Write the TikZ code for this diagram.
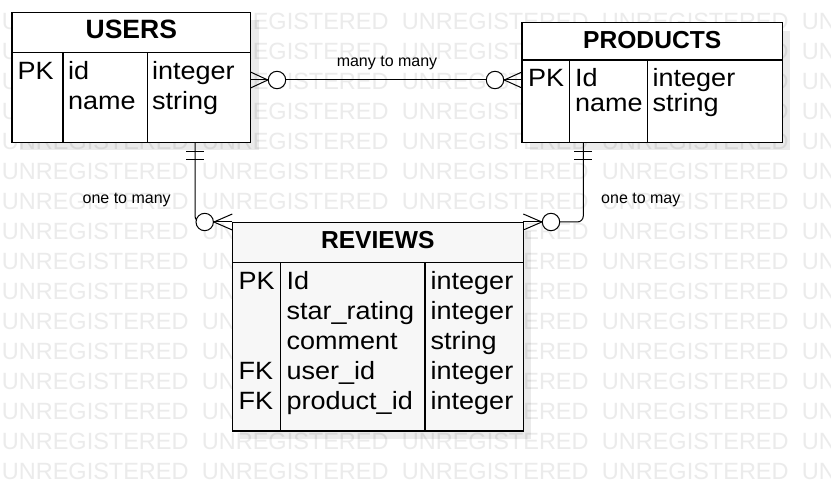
\documentclass[tikz,border=0pt]{standalone}
\usepackage{fontspec}
\setmainfont{Liberation Sans}
\newfontfamily\rowfont[FakeStretch=1.08]{Liberation Sans}
\usetikzlibrary{calc}
\pgfdeclarelayer{wmlayer}
\pgfdeclarelayer{linelayer}
\pgfsetlayers{wmlayer,linelayer,main}
\begin{document}
\begin{tikzpicture}[x=1pt,y=-1pt,
  box/.style={draw=black, line width=1.2pt, fill=white, inner sep=0pt, outer sep=0pt, anchor=north west},
  sep/.style={draw=black, line width=1.2pt},
  shade/.style={fill=black, fill opacity=0.08, draw=none},
  hdr/.style={inner sep=0pt, anchor=base},
  row/.style={font=\rowfont\fontsize{25}{25}\selectfont, inner sep=0pt, anchor=base west},
  lbl/.style={font=\fontsize{16}{16}\selectfont, inner sep=0pt, anchor=base},
  circ/.style={circle, draw=black, line width=1pt, fill=white, minimum size=17.4pt, inner sep=0pt},
  conn/.style={draw=black, line width=1pt},
  wm/.style={font=\fontsize{23.5}{23.5}\selectfont, text=black!8, inner sep=0pt, anchor=west}
]
\useasboundingbox (0,0) rectangle (831,481);

% watermark
\begin{pgfonlayer}{wmlayer}
\fill[white] (0,0) rectangle (831,481);
\foreach \r in {0,...,15}{
  \foreach \c in {0,...,4}{
    \node[wm] (wm-\r-\c) at ({1.7+200*\c},{21.7+30*\r}) {UNREGISTERED};
  }
}
% shadows
\fill[shade] (20,20.5) rectangle (258.5,150.3);
\fill[shade] (530,30.7) rectangle (790.3,150.3);
\fill[shade] (240.3,230.7) rectangle (531.3,439);
\end{pgfonlayer}

% USERS
\node[box, minimum width=238.5pt, minimum height=129.8pt] (users) at (12,12.5) {};
\draw[sep] ($(users.north west)+(0,39.8)$) -- ($(users.north east)+(0,39.8)$);
\draw[sep] ($(users.north west)+(51,39.8)$) -- ($(users.south west)+(51,0)$);
\draw[sep] ($(users.north west)+(135.3,39.8)$) -- ($(users.south west)+(135.3,0)$);
\node[hdr, font=\bfseries\fontsize{26.5}{26.5}\selectfont] (usersT) at (131.3,39) {USERS};
\node[row] (u-pk) at (17.5,80) {PK};
\node[row] (u-id) at (68,80) {id};
\node[row] (u-name) at (68,109.5) {name};
\node[row] (u-int) at (152,80) {integer};
\node[row] (u-str) at (152,109.5) {string};

% PRODUCTS
\node[box, minimum width=260.3pt, minimum height=119.6pt] (products) at (522,22.7) {};
\draw[sep] ($(products.north west)+(0,37.3)$) -- ($(products.north east)+(0,37.3)$);
\draw[sep] ($(products.north west)+(47.7,37.3)$) -- ($(products.south west)+(47.7,0)$);
\draw[sep] ($(products.north west)+(125.7,37.3)$) -- ($(products.south west)+(125.7,0)$);
\node[hdr, font=\bfseries\fontsize{24.6}{24.6}\selectfont] (productsT) at (652.2,48.3) {PRODUCTS};
\node[row] (p-pk) at (528,86.5) {PK};
\node[row] (p-id) at (575,86.5) {Id};
\node[row] (p-name) at (575,112) {name};
\node[row] (p-int) at (652.5,86.5) {integer};
\node[row] (p-str) at (652.5,112) {string};

% REVIEWS
\node[box, fill=black!3, minimum width=291pt, minimum height=208.3pt] (reviews) at (232.3,222.7) {};
\draw[sep] ($(reviews.north west)+(0,39.6)$) -- ($(reviews.north east)+(0,39.6)$);
\draw[sep] ($(reviews.north west)+(48,39.6)$) -- ($(reviews.south west)+(48,0)$);
\draw[sep] ($(reviews.north west)+(192.7,39.6)$) -- ($(reviews.south west)+(192.7,0)$);
\node[hdr, font=\bfseries\fontsize{24.6}{24.6}\selectfont] (reviewsT) at (377.8,249) {REVIEWS};
\node[row] (r-pk) at (238.5,289.5) {PK};
\node[row] (r-fk1) at (238.5,379.5) {FK};
\node[row] (r-fk2) at (238.5,409.5) {FK};
\node[row] (r-n1) at (286.5,289.5) {Id};
\node[row] (r-n2) at (286.5,319.5) {star\_rating};
\node[row] (r-n3) at (286.5,349.5) {comment};
\node[row] (r-n4) at (286.5,379.5) {user\_id};
\node[row] (r-n5) at (286.5,409.5) {product\_id};
\node[row] (r-t1) at (430.5,289.5) {integer};
\node[row] (r-t2) at (430.5,319.5) {integer};
\node[row] (r-t3) at (430.5,349.5) {string};
\node[row] (r-t4) at (430.5,379.5) {integer};
\node[row] (r-t5) at (430.5,409.5) {integer};

% circles
\node[circ] (c1) at (277,80) {};
\node[circ] (c2) at (495,80) {};
\node[circ] (c3) at (204.7,222) {};
\node[circ] (c4) at (551,222) {};

\coordinate (uDrop) at ($(users.south west)+(183,0)$);
\coordinate (pDrop) at ($(products.south west)+(61.3,0)$);

\begin{pgfonlayer}{linelayer}
% users - products
\draw[conn] (c1) -- (c2);
\draw[conn] ($(users.east|-c1)+(0,-8)$) -- (c1.west) -- ($(users.east|-c1)+(0,8)$);
\draw[conn] (users.east|-c1) -- (c1.west);
\draw[conn] ($(products.west|-c2)+(0,-8)$) -- (c2.east) -- ($(products.west|-c2)+(0,8)$);
\draw[conn] (products.west|-c2) -- (c2.east);
% users - reviews
\draw[conn, rounded corners=6pt] (uDrop) |- (c3.center);
\draw[conn] ($(uDrop)+(-9,9)$) -- ++(18,0);
\draw[conn] ($(uDrop)+(-9,17)$) -- ++(18,0);
\draw[conn] ($(reviews.west|-c3)+(0,-8)$) -- (c3.east) -- ($(reviews.west|-c3)+(0,8)$);
\draw[conn] (reviews.west|-c3) -- (c3.east);
% products - reviews
\draw[conn, rounded corners=6pt] (pDrop) |- (c4.center);
\draw[conn] ($(pDrop)+(-9,9)$) -- ++(18,0);
\draw[conn] ($(pDrop)+(-9,17)$) -- ++(18,0);
\draw[conn] ($(reviews.east|-c4)+(0,-8)$) -- (c4.west) -- ($(reviews.east|-c4)+(0,8)$);
\draw[conn] (reviews.east|-c4) -- (c4.west);
\end{pgfonlayer}

% labels
\node[lbl] (l1) at (387,66.5) {many to many};
\node[lbl] (l2) at (126.7,203.3) {one to many};
\node[lbl] (l3) at (640.8,203.3) {one to may};
\end{tikzpicture}
\end{document}
